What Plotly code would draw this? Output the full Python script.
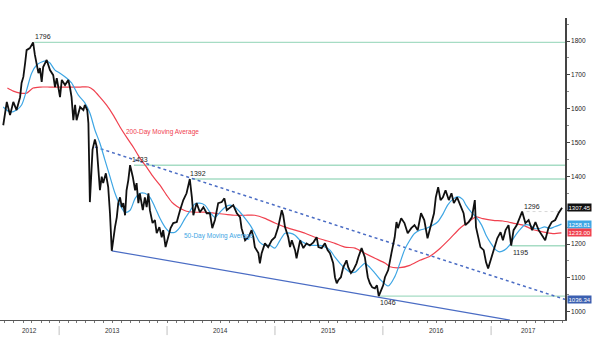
import plotly.graph_objects as go

# ---- daily gold closes (sampled) ----
price_dates = [
    "2012-06-26", "2012-07-08", "2012-07-19", "2012-07-30", "2012-08-10", "2012-08-22", "2012-08-27",
    "2012-09-02", "2012-09-08", "2012-09-13", "2012-09-24", "2012-10-05", "2012-10-11", "2012-10-17",
    "2012-10-23", "2012-10-28", "2012-11-03", "2012-11-08", "2012-11-20", "2012-12-01", "2012-12-12",
    "2012-12-18", "2012-12-24", "2013-01-04", "2013-01-10", "2013-01-21", "2013-02-01", "2013-02-07",
    "2013-02-12", "2013-02-18", "2013-02-24", "2013-03-01", "2013-03-13", "2013-03-24", "2013-03-29",
    "2013-04-06", "2013-04-10", "2013-04-13", "2013-04-15", "2013-04-24", "2013-05-02", "2013-05-08",
    "2013-05-13", "2013-05-19", "2013-05-25", "2013-05-30", "2013-06-08", "2013-06-16", "2013-06-22",
    "2013-06-24", "2013-06-28", "2013-07-09", "2013-07-15", "2013-07-20", "2013-07-26", "2013-08-01",
    "2013-08-06", "2013-08-12", "2013-08-17", "2013-08-23", "2013-08-29", "2013-09-07", "2013-09-15",
    "2013-09-20", "2013-09-26", "2013-10-01", "2013-10-11", "2013-10-18", "2013-10-24", "2013-10-30",
    "2013-11-04", "2013-11-13", "2013-11-21", "2013-11-27", "2013-12-06", "2013-12-14", "2013-12-19",
    "2013-12-27", "2014-01-05", "2014-01-13", "2014-01-22", "2014-02-03", "2014-02-14", "2014-02-25",
    "2014-03-08", "2014-03-13", "2014-03-19", "2014-03-26", "2014-03-31", "2014-04-11", "2014-04-22",
    "2014-05-04", "2014-05-15", "2014-05-26", "2014-06-03", "2014-06-12", "2014-06-23", "2014-07-05",
    "2014-07-14", "2014-07-22", "2014-08-02", "2014-08-13", "2014-08-25", "2014-09-05", "2014-09-10",
    "2014-09-22", "2014-10-03", "2014-10-14", "2014-10-20", "2014-10-25", "2014-11-06", "2014-11-11",
    "2014-11-17", "2014-11-28", "2014-12-09", "2014-12-21", "2015-01-01", "2015-01-12", "2015-01-24",
    "2015-01-29", "2015-02-04", "2015-02-15", "2015-02-21", "2015-02-27", "2015-03-10", "2015-03-15",
    "2015-03-27", "2015-04-07", "2015-04-18", "2015-04-29", "2015-05-11", "2015-05-22", "2015-05-28",
    "2015-06-08", "2015-06-19", "2015-06-28", "2015-07-06", "2015-07-17", "2015-07-23", "2015-07-29",
    "2015-08-03", "2015-08-12", "2015-08-20", "2015-08-31", "2015-09-06", "2015-09-15", "2015-09-23",
    "2015-10-04", "2015-10-10", "2015-10-21", "2015-11-01", "2015-11-11", "2015-11-18", "2015-11-26",
    "2015-12-05", "2015-12-12", "2015-12-18", "2016-01-02", "2016-01-08", "2016-01-19", "2016-01-30",
    "2016-02-10", "2016-02-16", "2016-02-21", "2016-03-03", "2016-03-14", "2016-03-25", "2016-04-06",
    "2016-04-17", "2016-04-28", "2016-05-09", "2016-05-20", "2016-05-31", "2016-06-11", "2016-06-22",
    "2016-06-28", "2016-07-06", "2016-07-14", "2016-07-22", "2016-07-31", "2016-08-11", "2016-08-20",
    "2016-08-28", "2016-09-08", "2016-09-19", "2016-09-30", "2016-10-06", "2016-10-17", "2016-10-28",
    "2016-11-07", "2016-11-11", "2016-11-18", "2016-11-26", "2016-12-07", "2016-12-15", "2016-12-22",
    "2016-12-30", "2017-01-11", "2017-01-22", "2017-02-02", "2017-02-10", "2017-02-19", "2017-03-01",
    "2017-03-10", "2017-03-18", "2017-03-29", "2017-04-10", "2017-04-16", "2017-04-27", "2017-05-08",
    "2017-05-20", "2017-05-31", "2017-06-11", "2017-06-22", "2017-07-03", "2017-07-14", "2017-07-25",
    "2017-08-06", "2017-08-17", "2017-08-29",
]
price_values = [
    1551, 1620, 1581, 1620, 1596, 1634, 1676,
    1694, 1735, 1773, 1779, 1796, 1759, 1735,
    1705, 1720, 1679, 1723, 1744, 1714, 1699,
    1664, 1690, 1634, 1685, 1670, 1685, 1661,
    1634, 1566, 1611, 1566, 1605, 1596, 1611,
    1596, 1557, 1418, 1324, 1479, 1509, 1488,
    1418, 1359, 1399, 1380, 1409, 1368, 1291,
    1241, 1180, 1250, 1279, 1321, 1338, 1309,
    1321, 1285, 1359, 1389, 1433, 1399, 1359,
    1380, 1321, 1350, 1300, 1338, 1309, 1350,
    1300, 1262, 1271, 1232, 1250, 1220, 1241,
    1191, 1220, 1247, 1262, 1265, 1300, 1330,
    1350, 1368, 1392, 1338, 1285, 1321, 1294,
    1309, 1291, 1291, 1247, 1271, 1321, 1324,
    1335, 1300, 1309, 1315, 1291, 1279, 1247,
    1211, 1220, 1241, 1220, 1191, 1173, 1143,
    1173, 1202, 1191, 1211, 1220, 1250, 1300,
    1285, 1250, 1220, 1191, 1211, 1182, 1158,
    1211, 1188, 1202, 1196, 1205, 1220, 1191,
    1188, 1202, 1182, 1173, 1143, 1102, 1084,
    1093, 1102, 1131, 1152, 1131, 1114, 1123,
    1143, 1161, 1188, 1161, 1102, 1084, 1072,
    1069, 1078, 1046, 1078, 1102, 1123, 1173,
    1220, 1265, 1247, 1276, 1262, 1232, 1247,
    1256, 1241, 1291, 1271, 1217, 1256, 1291,
    1338, 1368, 1330, 1338, 1359, 1330, 1350,
    1321, 1338, 1315, 1291, 1256, 1265, 1279,
    1330, 1250, 1220, 1191, 1182, 1146, 1128,
    1152, 1191, 1217, 1235, 1211, 1241, 1256,
    1195, 1241, 1256, 1285, 1296, 1262, 1271,
    1241, 1265, 1241, 1226, 1211, 1247, 1265,
    1271, 1291, 1307.45,
]

# ---- 50-day moving average ----
ma50_dates = [
    "2012-06-26", "2012-07-19", "2012-08-10", "2012-08-27", "2012-09-13", "2012-09-30", "2012-10-17",
    "2012-11-03", "2012-11-20", "2012-12-01", "2012-12-18", "2013-01-04", "2013-01-27", "2013-02-12",
    "2013-03-07", "2013-03-29", "2013-04-15", "2013-05-02", "2013-05-19", "2013-06-05", "2013-06-22",
    "2013-07-09", "2013-07-26", "2013-08-12", "2013-08-29", "2013-09-15", "2013-10-01", "2013-10-18",
    "2013-11-04", "2013-11-21", "2013-12-08", "2013-12-25", "2014-01-11", "2014-01-28", "2014-02-14",
    "2014-03-03", "2014-03-20", "2014-04-05", "2014-04-22", "2014-05-09", "2014-05-26", "2014-06-12",
    "2014-06-29", "2014-07-16", "2014-08-02", "2014-08-19", "2014-09-05", "2014-09-22", "2014-10-09",
    "2014-10-25", "2014-11-11", "2014-11-28", "2014-12-15", "2015-01-01", "2015-01-18", "2015-02-04",
    "2015-02-21", "2015-03-10", "2015-03-27", "2015-04-13", "2015-04-29", "2015-05-16", "2015-06-02",
    "2015-06-19", "2015-07-06", "2015-07-23", "2015-08-09", "2015-08-26", "2015-09-12", "2015-09-29",
    "2015-10-16", "2015-11-01", "2015-11-18", "2015-12-05", "2015-12-22", "2016-01-19", "2016-02-10",
    "2016-02-27", "2016-03-14", "2016-04-01", "2016-04-17", "2016-05-05", "2016-05-26", "2016-06-19",
    "2016-07-04", "2016-07-23", "2016-08-07", "2016-08-24", "2016-09-10", "2016-09-27", "2016-10-08",
    "2016-10-25", "2016-11-11", "2016-11-30", "2016-12-15", "2017-01-01", "2017-01-18", "2017-01-29",
    "2017-02-15", "2017-03-04", "2017-03-21", "2017-04-07", "2017-04-24", "2017-05-11", "2017-05-28",
    "2017-06-14", "2017-07-01", "2017-07-18", "2017-08-04", "2017-08-27",
]
ma50_values = [
    1605, 1590, 1596, 1611, 1655, 1705, 1729,
    1738, 1741, 1735, 1714, 1705, 1690, 1676,
    1640, 1617, 1587, 1537, 1498, 1448, 1399,
    1350, 1315, 1294, 1300, 1335, 1350, 1350,
    1338, 1309, 1276, 1250, 1235, 1235, 1250,
    1276, 1298, 1318, 1321, 1315, 1294, 1279,
    1294, 1309, 1315, 1309, 1294, 1276, 1256,
    1232, 1205, 1196, 1196, 1188, 1211, 1232,
    1232, 1226, 1211, 1202, 1196, 1196, 1196,
    1191, 1182, 1161, 1143, 1128, 1117, 1117,
    1131, 1143, 1131, 1114, 1096, 1076, 1103,
    1142, 1182, 1211, 1231, 1241, 1246, 1256,
    1265, 1290, 1315, 1332, 1340, 1332, 1315,
    1295, 1280, 1256, 1226, 1201, 1182, 1177,
    1182, 1196, 1221, 1241, 1256, 1256, 1246,
    1246, 1251, 1246, 1251, 1258.81,
]

# ---- 200-day moving average ----
ma200_dates = [
    "2012-07-10", "2012-07-30", "2012-08-22", "2012-09-13", "2012-10-05", "2012-10-28", "2012-12-01",
    "2013-01-04", "2013-02-07", "2013-03-13", "2013-04-10", "2013-04-27", "2013-05-19", "2013-06-10",
    "2013-07-03", "2013-07-26", "2013-08-17", "2013-09-09", "2013-10-01", "2013-10-24", "2013-11-15",
    "2013-12-08", "2013-12-31", "2014-01-17", "2014-02-03", "2014-02-20", "2014-03-08", "2014-04-05",
    "2014-05-09", "2014-06-12", "2014-07-16", "2014-08-19", "2014-09-22", "2014-10-25", "2014-11-28",
    "2015-01-01", "2015-02-04", "2015-03-10", "2015-04-13", "2015-05-16", "2015-06-19", "2015-07-23",
    "2015-08-26", "2015-09-29", "2015-11-01", "2015-12-05", "2016-01-08", "2016-01-25", "2016-02-27",
    "2016-04-01", "2016-05-05", "2016-06-08", "2016-07-12", "2016-08-15", "2016-09-17", "2016-10-16",
    "2016-11-11", "2016-12-04", "2017-01-08", "2017-02-10", "2017-03-16", "2017-04-19", "2017-05-22",
    "2017-06-25", "2017-07-29", "2017-08-27",
]
ma200_values = [
    1661, 1652, 1646, 1646, 1661, 1664, 1664,
    1664, 1664, 1664, 1664, 1655, 1634, 1611,
    1581, 1546, 1516, 1486, 1454, 1427, 1399,
    1374, 1344, 1324, 1312, 1303, 1297, 1294,
    1294, 1291, 1288, 1285, 1285, 1285, 1276,
    1262, 1250, 1241, 1232, 1220, 1211, 1202,
    1191, 1188, 1173, 1158, 1144, 1133, 1130,
    1137, 1152, 1164, 1187, 1216, 1246, 1265,
    1280, 1275, 1270, 1268, 1262, 1256, 1243,
    1236, 1231, 1233.00,
]

# ---- trendlines (start/end anchors) ----
resistance_dates = ["2013-05-02", "2017-09-08"]
resistance_values = [1487, 1036.34]
support_dates = ["2013-06-28", "2017-03-06"]
support_values = [1180, 975]

# ---- horizontal levels: value, start date ----
level_values = [1796, 1433, 1392, 1195, 1046]
level_starts = ["2012-10-09", "2013-09-11", "2014-03-25", "2017-03-10", "2015-12-22"]
resistance_1296_start = "2017-05-01"

# ---- point labels: text value, date, above/below ----
peak_labels = [1796, 1433, 1392, 1296, 1195, 1046]
peak_dates = ["2012-10-05", "2013-08-29", "2014-03-14", "2017-04-14", "2017-03-08", "2015-12-16"]
peak_above = [True, True, True, True, False, False]

# ---- axis setup ----
x_start, x_end = "2012-06-15", "2017-09-08"
y_min, y_max = 975.5, 1868
y_ticks = [1000, 1100, 1200, 1300, 1400, 1500, 1600, 1700, 1800]
# the 1300 label sits behind the last-price tag, so it is left blank
y_tick_text = ["1000", "1100", "1200", "", "1400", "1500", "1600", "1700", "1800"]
year_names = ["2012", "2013", "2014", "2015", "2016", "2017"]
year_label_dates = ["2012-09-24", "2013-07-02", "2014-07-02", "2015-07-02", "2016-07-02", "2017-05-06"]
year_bounds = ["2013-01-01", "2014-01-01", "2015-01-01", "2016-01-01", "2017-01-01"]

FONT = "Liberation Sans"
LEVEL_GREEN = "#a6dcc4"
MA50_BLUE = "#3ea6e4"
MA200_RED = "#f0414f"
TREND_BLUE = "#4a6cc4"

fig = go.Figure()

# horizontal support / resistance levels
for v, s in zip(level_values, level_starts):
    fig.add_trace(go.Scatter(x=[s, x_end], y=[v, v], mode="lines",
                             line=dict(color=LEVEL_GREEN, width=1.4), hoverinfo="skip"))
fig.add_trace(go.Scatter(x=[resistance_1296_start, "2017-08-20"], y=[1296, 1296], mode="lines",
                         line=dict(color="#d8d8d8", width=1, dash="dot"), hoverinfo="skip"))

# trendlines
fig.add_trace(go.Scatter(x=resistance_dates, y=resistance_values, mode="lines",
                         line=dict(color=TREND_BLUE, width=1.5, dash="dot"), hoverinfo="skip"))
fig.add_trace(go.Scatter(x=support_dates, y=support_values, mode="lines",
                         line=dict(color=TREND_BLUE, width=1.2), hoverinfo="skip"))

# moving averages
fig.add_trace(go.Scatter(x=ma200_dates, y=ma200_values, mode="lines",
                         line=dict(color=MA200_RED, width=1.2, shape="spline", smoothing=0.6),
                         name="200-Day Moving Average"))
fig.add_trace(go.Scatter(x=ma50_dates, y=ma50_values, mode="lines",
                         line=dict(color=MA50_BLUE, width=1.2, shape="spline", smoothing=0.8),
                         name="50-Day Moving Average"))

# price
fig.add_trace(go.Scatter(x=price_dates, y=price_values, mode="lines",
                         line=dict(color="#111111", width=1.8), name="Gold"))

annotations = []

# peak / trough labels
for v, d, up in zip(peak_labels, peak_dates, peak_above):
    annotations.append(dict(x=d, y=v, xref="x", yref="y", text=str(v), showarrow=False,
                            xanchor="left", yanchor="bottom" if up else "top",
                            yshift=0 if up else -1,
                            font=dict(family=FONT, size=7, color="#222")))

# moving average captions
annotations.append(dict(x="2013-08-10", y=1530, xref="x", yref="y", text="200-Day Moving Average",
                        showarrow=False, xanchor="left", font=dict(family=FONT, size=6.5, color=MA200_RED)))
annotations.append(dict(x="2014-02-20", y=1225, xref="x", yref="y", text="50-Day Moving Average",
                        showarrow=False, xanchor="left", font=dict(family=FONT, size=6.5, color=MA50_BLUE)))

# right-hand value tags
tags = [
    (price_values[-1], "%.2f" % price_values[-1], "#111111", "#ffffff"),
    (ma50_values[-1], "%.2f" % ma50_values[-1], MA50_BLUE, "#ffffff"),
    (ma200_values[-1], "%.2f" % ma200_values[-1], MA200_RED, "#ffffff"),
    (resistance_values[-1], "%.2f" % resistance_values[-1], "#3b5fb0", "#ffffff"),
]
for v, txt, bg, fg in tags:
    annotations.append(dict(x=1, y=v, xref="paper", yref="y", text=txt, showarrow=False,
                            xanchor="left", xshift=2, bgcolor=bg, borderpad=0.5,
                            font=dict(family=FONT, size=6, color=fg)))

# year captions under the axis
for name, d in zip(year_names, year_label_dates):
    annotations.append(dict(x=d, y=-0.035, xref="x", yref="paper", text=name, showarrow=False,
                            yanchor="middle", font=dict(family=FONT, size=6.5, color="#333")))

shapes = []
for d in year_bounds:
    shapes.append(dict(type="line", xref="x", yref="paper", x0=d, x1=d, y0=-0.02, y1=-0.05,
                       line=dict(color="#c0c0c0", width=1)))

fig.update_layout(
    width=600, height=346,
    margin=dict(l=0, r=35, t=18, b=26),
    paper_bgcolor="white", plot_bgcolor="white",
    showlegend=False,
    annotations=annotations,
    shapes=shapes,
    xaxis=dict(range=[x_start, x_end], showgrid=False, zeroline=False,
               showline=True, linecolor="#555", linewidth=1,
               ticks="outside", ticklen=2, tickcolor="#777", dtick="M1",
               tick0="2012-01-01", showticklabels=False),
    yaxis=dict(range=[y_min, y_max], side="right", showgrid=False, zeroline=False,
               showline=True, linecolor="#444", linewidth=1.5,
               ticks="outside", ticklen=3, tickcolor="#444",
               tickvals=y_ticks, ticktext=y_tick_text,
               minor=dict(dtick=50, ticks="outside", ticklen=2, tickcolor="#888"),
               tickfont=dict(family=FONT, size=6.5, color="#222")),
)

fig.write_html("out.html")
